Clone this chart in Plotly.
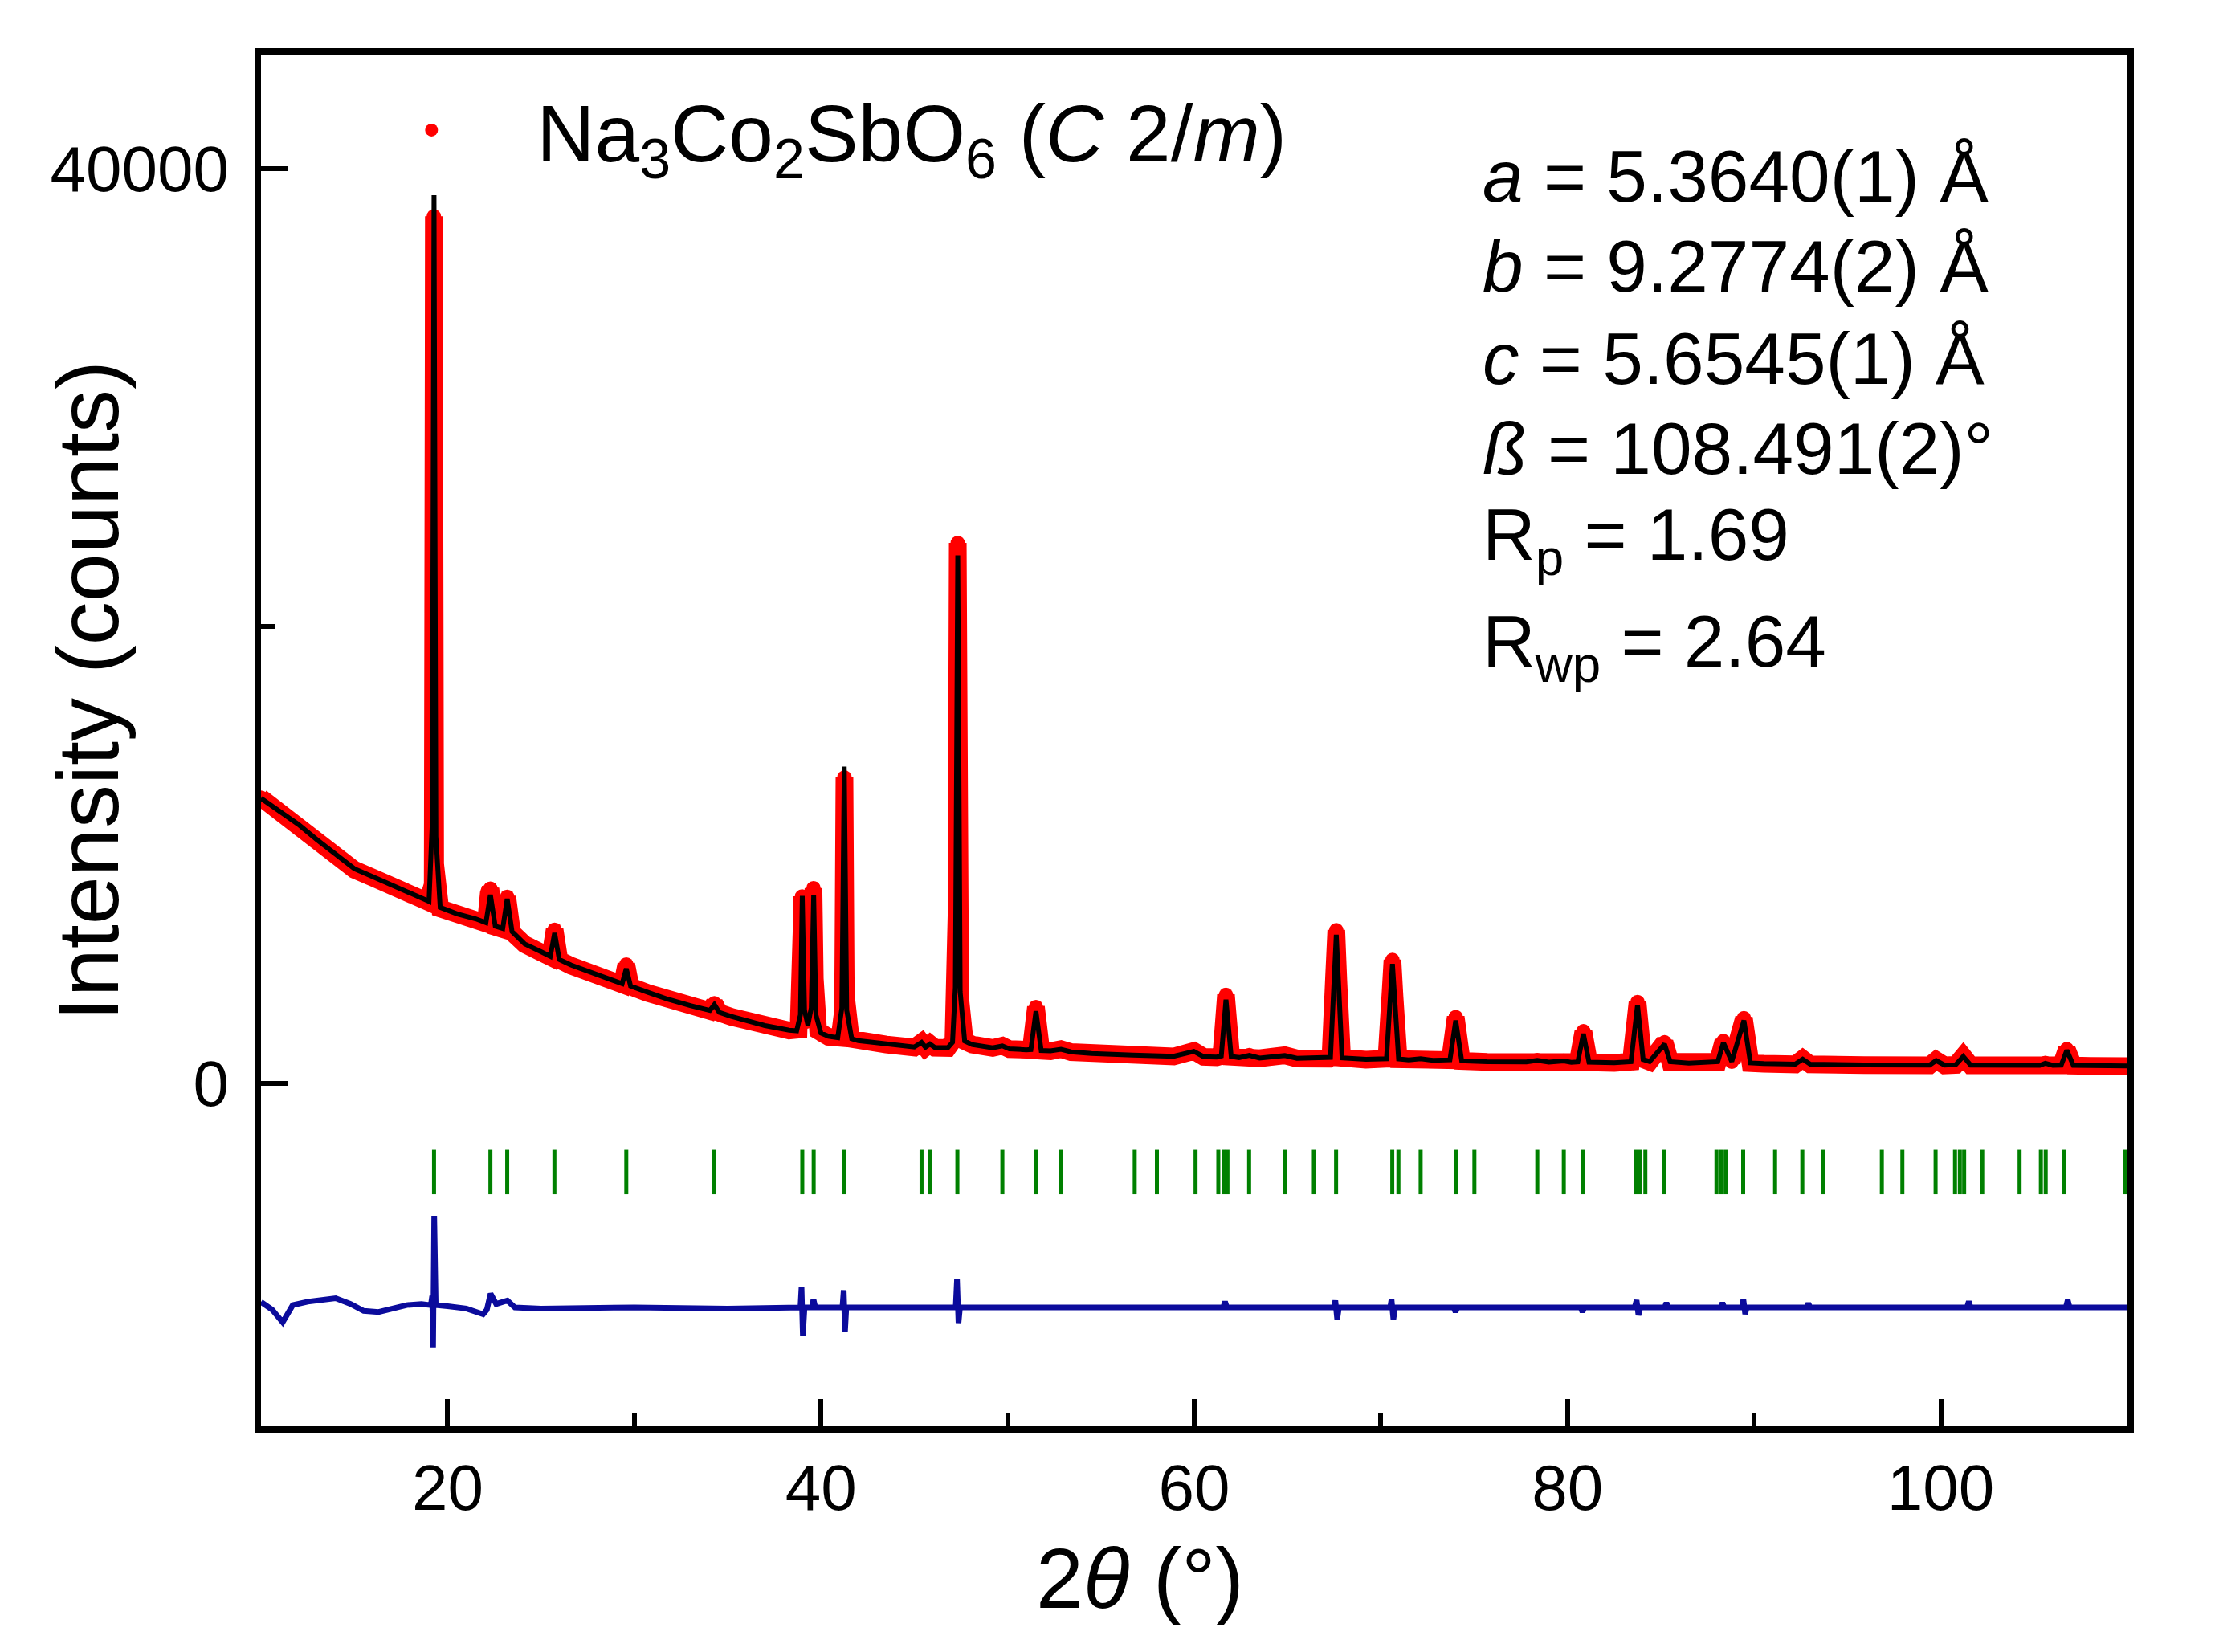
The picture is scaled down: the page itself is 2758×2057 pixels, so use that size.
import plotly.graph_objects as go

# calculated profile (black line): 2theta (deg), intensity (counts)
calc_tth = [10.0, 11.0, 12.0, 13.0, 14.0, 15.0, 16.0, 17.0, 18.0, 18.92,
            19.0, 19.17, 19.27, 19.37, 19.6, 20.5, 21.5,
            22.05, 22.29, 22.55, 22.95, 23.19, 23.45, 24.13, 25.0,
            25.5, 25.73, 25.98, 26.6, 27.42, 28.5, 29.35, 29.57, 29.8,
            30.7, 31.8, 33.0, 34.05, 34.29, 34.55, 35.2, 36.2, 37.0, 38.3,
            38.7, 38.9, 39.0, 39.12, 39.3, 39.48, 39.61, 39.73, 40.0, 40.4,
            40.9, 41.12, 41.25, 41.38, 41.65, 42.0, 43.5, 45.0, 45.39, 45.6,
            45.84, 46.1, 46.8, 47.05, 47.2, 47.33, 47.46, 47.7, 48.1,
            49.2, 49.72, 50.1, 51.0, 51.25, 51.52, 51.8, 52.3, 52.86, 53.4,
            54.5, 56.7, 58.9, 59.98, 60.5, 61.2, 61.45, 61.7, 61.98,
            62.4, 62.95, 63.5, 64.85, 65.5, 67.2, 67.3, 67.61, 67.92,
            69.2, 70.3, 70.62, 70.95, 71.5, 72.13, 72.8, 73.7, 74.01, 74.33,
            75.7, 77.8, 78.38, 79.0, 79.8, 80.2, 80.55, 80.85, 81.15, 82.5,
            83.4, 83.75, 84.05, 84.4, 85.2, 85.5, 86.5, 87.9, 88.05, 88.35,
            88.8, 89.45, 89.8, 90.5, 92.2, 92.6, 93.0, 95.9, 99.4, 99.75,
            100.2, 100.8, 101.2, 101.6, 103.0, 105.3, 105.6, 106.0, 106.45,
            106.75, 107.1, 108.0, 110.0]
calc_int = [12470, 11880, 11330, 10660, 10020, 9390, 9040, 8700, 8330, 7990,
            7960, 11300, 38850, 10800, 7700, 7420, 7200,
            7030, 8250, 6880, 6780, 8070, 6640, 6100, 5760,
            5560, 6580, 5420, 5180, 4930, 4620, 4360, 5020, 4260,
            3990, 3680, 3400, 3190, 3445, 3110, 2930, 2690, 2530, 2330,
            2300, 3000, 8200, 3200, 2550, 3300, 8250, 3000, 2200, 2060,
            2000, 3300, 13860, 3200, 1950, 1870, 1720, 1590, 1790, 1580,
            1720, 1570, 1560, 1800, 4200, 23100, 4000, 1850, 1700,
            1560, 1640, 1510, 1470, 1480, 3160, 1440, 1420, 1490, 1380,
            1310, 1240, 1185, 1400, 1170, 1150, 1200, 3660, 1180,
            1130, 1230, 1110, 1220, 1100, 1090, 1140, 6500, 1120,
            1050, 1080, 5230, 1070, 1030, 1080, 1010, 1030, 2750, 990,
            950, 940, 1010, 930, 980, 925, 940, 2170, 930, 905,
            950, 3430, 1050, 960, 1720, 950, 890, 900, 950, 1780,
            960, 2750, 900, 870, 840, 1060, 840, 810, 800, 1000,
            800, 820, 1180, 800, 785, 790, 880, 790, 800,
            1450, 790, 775, 765]

# observed pattern (red dots)
obs_tth = [10.0, 11.0, 12.0, 13.0, 14.0, 15.0, 16.0, 17.0, 18.0, 18.92,
           19.2, 19.22, 19.23, 19.24, 19.24, 19.25, 19.25, 19.26,
           19.28, 19.29, 19.29, 19.3, 19.31, 19.33, 19.6, 20.5, 21.5,
           22.05, 22.2, 22.29, 22.38, 22.55, 22.95, 23.19, 23.45, 24.13, 25.0,
           25.5, 25.73, 25.98, 26.6, 27.42, 28.5, 29.35, 29.57, 29.8,
           30.7, 31.8, 33.0, 34.05, 34.29, 34.55, 35.2, 36.2, 37.0, 38.3,
           38.8, 38.95, 38.96, 38.97, 38.99, 39.02, 39.03, 39.04, 39.2,
           39.5, 39.55, 39.57, 39.6, 39.63, 39.65, 39.67, 39.85, 40.4,
           41.0, 41.18, 41.2, 41.22, 41.23, 41.24, 41.26, 41.27, 41.28,
           41.29, 41.3, 41.31, 41.33, 41.6, 42.0, 43.5, 45.0, 45.39, 45.6,
           45.84, 46.1, 46.8, 47.1, 47.26, 47.27, 47.28, 47.29, 47.3, 47.31,
           47.33, 47.35, 47.36, 47.37, 47.38, 47.39, 47.4, 47.41, 47.42,
           47.43, 47.44, 47.46, 47.7, 48.1, 49.2, 49.72, 50.1, 51.0,
           51.25, 51.52, 51.8, 52.3, 52.86, 53.4, 54.5, 56.7, 58.9, 59.98,
           60.5, 61.2, 61.45, 61.6, 61.7, 61.8, 61.98, 62.4, 62.95, 63.5,
           64.85, 65.5, 67.2, 67.3, 67.5, 67.61, 67.72, 67.92, 69.2,
           70.3, 70.52, 70.62, 70.73, 70.95, 71.5, 72.13, 72.8, 73.7, 74.01,
           74.33, 75.7, 77.8, 78.38, 79.0, 79.8, 80.2, 80.55, 80.85, 81.15,
           82.5, 83.4, 83.75, 84.05, 84.4, 85.2, 85.5, 86.5, 87.9, 88.05,
           88.35, 88.8, 89.45, 89.8, 90.5, 92.2, 92.6, 93.0, 95.9, 99.4,
           99.75, 100.2, 100.8, 101.2, 101.6, 103.0, 105.3, 105.6, 106.0,
           106.45, 106.75, 107.1, 108.0, 110.0]
obs_int = [12500, 11850, 11280, 10650, 10000, 9350, 9000, 8650, 8300, 7950,
           8700, 10530, 12480, 15500, 21340, 25520, 31420, 37930,
           35610, 24680, 18100, 13710, 11250, 9600, 7650, 7380, 7150,
           7000, 8300, 8520, 7900, 6850, 6750, 8160, 6600, 6080, 5730,
           5530, 6720, 5400, 5150, 4900, 4600, 4330, 5200, 4240,
           3960, 3650, 3380, 3170, 3500, 3090, 2910, 2670, 2510, 2310,
           2350, 4050, 5670, 6930, 8180, 7460, 6390, 4950, 2700,
           3690, 5580, 6750, 8540, 7640, 6210, 4590, 2300, 2040,
           2000, 3160, 5130, 7640, 9970, 12390, 13380, 11940, 10690,
           8900, 7100, 5850, 3870, 1950, 1860, 1700, 1570, 1800, 1570,
           1730, 1560, 1550, 1900, 4320, 7550, 11860, 16340, 19390, 21900,
           23640, 22980, 21000, 18760, 15930, 14240, 12720, 9530, 7320,
           5850, 5220, 3730, 1850, 1700, 1550, 1650, 1500, 1460,
           1470, 3340, 1430, 1410, 1500, 1370, 1300, 1230, 1175, 1420,
           1160, 1140, 1200, 2800, 3870, 2900, 1170, 1120, 1240, 1100,
           1230, 1090, 1080, 1150, 4800, 6700, 4500, 1120, 1040,
           1080, 4000, 5400, 3800, 1060, 1020, 1090, 1000, 1020, 2900,
           980, 940, 930, 1020, 920, 990, 915, 930, 2280, 920,
           895, 950, 3560, 1060, 950, 1800, 940, 880, 890, 940,
           1850, 950, 2850, 890, 860, 830, 1080, 830, 800, 790,
           1020, 790, 810, 1200, 790, 775, 780, 900, 780,
           790, 1500, 780, 765, 755]

# difference curve (blue), shifted below zero
diff_tth = [10.0, 10.6, 11.16, 11.7, 12.5, 13.3, 14.0, 14.8, 15.5, 16.3,
            17.0, 17.8, 18.6, 19.1, 19.17, 19.22, 19.28, 19.36, 20.0, 21.0,
            21.9, 22.1, 22.3, 22.6, 23.2, 23.6, 25.0, 30.0, 35.0, 38.9,
            38.96, 39.03, 39.12, 39.52, 39.6, 39.7, 41.15, 41.22, 41.29, 41.36,
            47.22, 47.29, 47.37, 47.45, 61.55, 61.65, 61.75, 67.5, 67.56, 67.66,
            67.75, 70.5, 70.57, 70.67, 70.76, 73.9, 74.0, 74.1, 80.7, 80.8,
            80.9, 83.6, 83.7, 83.8, 83.9, 85.2, 85.3, 85.4, 88.2, 88.3,
            88.4, 89.35, 89.42, 89.52, 89.6, 92.8, 92.9, 93.0, 101.4, 101.5,
            101.6, 106.7, 106.8, 106.9, 110.0]
diff_int = [-9560, -9900, -10450, -9700, -9550, -9450, -9400, -9650, -9950, -10000,
            -9850, -9700, -9650, -9700, -9300, -11550, -5800, -9700, -9750, -9850,
            -10100, -9900, -9200, -9650, -9500, -9800, -9850, -9800, -9850, -9800,
            -8900, -11030, -9800, -9800, -9450, -9800, -9800, -9050, -10850, -9800,
            -9800, -8560, -10480, -9800, -9800, -9550, -9800, -9800, -9500, -10320,
            -9800, -9800, -9440, -10320, -9800, -9800, -10000, -9800, -9800, -10000,
            -9800, -9800, -9480, -10140, -9800, -9800, -9600, -9800, -9800, -9600,
            -9800, -9800, -9450, -10090, -9800, -9800, -9620, -9800, -9800, -9540,
            -9800, -9800, -9480, -9800, -9800]

# Bragg reflection positions (green ticks)
bragg_tth = [19.27, 22.29, 23.19, 25.72, 29.57, 34.29, 39.00, 39.61, 41.25, 45.39,
             45.84, 47.31, 49.72, 51.52, 52.86, 56.81, 58.00, 60.07, 61.29, 61.59,
             61.78, 62.94, 64.85, 66.41, 67.60, 70.61, 70.94, 72.13, 74.01, 75.01,
             78.38, 79.80, 80.83, 83.68, 83.87, 84.17, 85.17, 87.98, 88.21, 88.47,
             89.41, 91.12, 92.58, 93.68, 96.84, 97.94, 99.72, 100.76, 101.02, 101.25,
             102.22, 104.22, 105.36, 105.62, 106.58, 109.87]
bragg_top = -2900
bragg_bottom = -4850

cell_lines = ["<i>a</i> = 5.3640(1) Å",
              "<i>b</i> = 9.2774(2) Å",
              "<i>c</i> = 5.6545(1) Å",
              "<i>ß</i> = 108.491(2)°",
              "R<sub>p</sub> = 1.69",
              "R<sub>wp</sub> = 2.64"]
cell_y = [0.9114, 0.8458, 0.7785, 0.7129, 0.6462, 0.5683]

FONT = "Liberation Sans, Arial, sans-serif"

bragg_x, bragg_y = [], []
for p in bragg_tth:
    bragg_x += [p, p, None]
    bragg_y += [bragg_top, bragg_bottom, None]

fig = go.Figure()

# observed as a dense red band plus dots
fig.add_trace(go.Scatter(x=obs_tth, y=obs_int, mode="lines",
                         line=dict(color="#ff0000", width=22),
                         showlegend=False, legendgroup="obs", hoverinfo="skip"))
fig.add_trace(go.Scatter(x=obs_tth, y=obs_int, mode="markers",
                         marker=dict(color="#ff0000", size=18),
                         name="Na<sub>3</sub>Co<sub>2</sub>SbO<sub>6</sub> (<i>C</i> 2/<i>m</i>)",
                         legendgroup="obs"))
fig.add_trace(go.Scatter(x=calc_tth, y=calc_int, mode="lines",
                         line=dict(color="black", width=6), showlegend=False))
fig.add_trace(go.Scatter(x=bragg_x, y=bragg_y, mode="lines",
                         line=dict(color="#008000", width=5), showlegend=False))
fig.add_trace(go.Scatter(x=diff_tth, y=diff_int, mode="lines",
                         line=dict(color="#0b0b9c", width=7), showlegend=False))

for txt, yy in zip(cell_lines, cell_y):
    fig.add_annotation(text=txt, xref="paper", yref="paper", x=0.6534, y=yy,
                       xanchor="left", yanchor="middle", showarrow=False,
                       font=dict(family=FONT, size=91, color="black"))

fig.add_annotation(text="Intensity (counts)", xref="paper", yref="paper",
                   x=-0.0926, y=0.536, textangle=-90, showarrow=False,
                   xanchor="center", yanchor="middle",
                   font=dict(family=FONT, size=108, color="black"))
fig.add_annotation(text="2<i>θ</i> (°)", xref="paper", yref="paper",
                   x=0.4708, y=-0.1107, showarrow=False,
                   xanchor="center", yanchor="middle",
                   font=dict(family=FONT, size=106, color="black"))

axis_common = dict(showline=True, linecolor="black", linewidth=8, mirror=True,
                   ticks="inside", ticklen=34, tickwidth=6, tickcolor="black",
                   showgrid=False, zeroline=False,
                   tickfont=dict(family=FONT, size=80, color="black"))

fig.update_xaxes(range=[10, 110], tick0=0, dtick=20, ticklabelstandoff=0,
                 minor=dict(ticks="inside", dtick=10, ticklen=17, tickwidth=6,
                            tickcolor="black"),
                 **axis_common)
fig.update_yaxes(range=[-15000, 45000], tick0=0, dtick=40000, tickformat="d",
                 ticklabelstandoff=16,
                 minor=dict(ticks="inside", dtick=20000, ticklen=17, tickwidth=6,
                            tickcolor="black"),
                 **axis_common)

# the page body adds an 8 px offset, so the figure is drawn 16 px smaller
fig.update_layout(
    width=2742, height=2041,
    margin=dict(l=317, r=101, t=60, b=273),
    plot_bgcolor="white", paper_bgcolor="white",
    font=dict(family=FONT, color="black"),
    showlegend=True,
    legend=dict(x=0.035, y=0.945, xanchor="left", yanchor="middle",
                bgcolor="rgba(0,0,0,0)", itemwidth=252,
                font=dict(family=FONT, size=100, color="black")),
)

fig.write_html("out.html")
